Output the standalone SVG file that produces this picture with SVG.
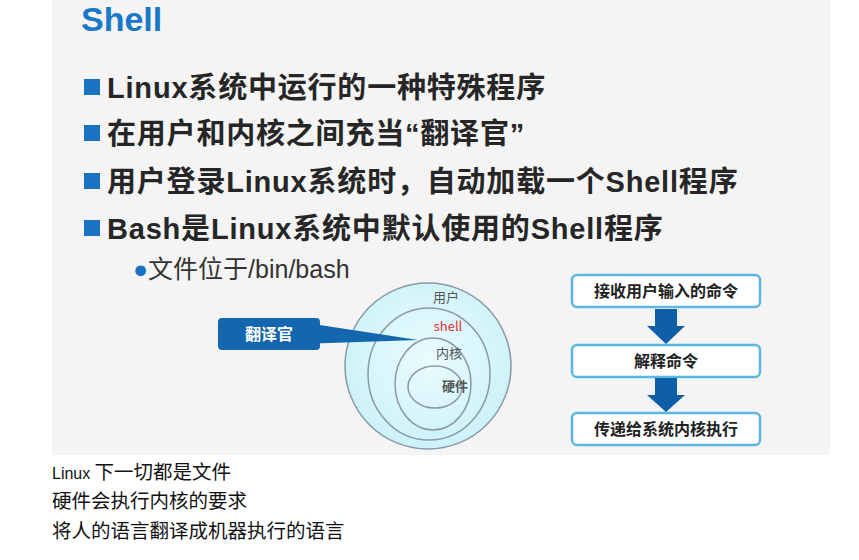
<svg xmlns="http://www.w3.org/2000/svg" width="859" height="560" viewBox="0 0 859 560">
<defs>
<style>
.b{font-family:"Liberation Sans","Noto Sans CJK SC",sans-serif;font-weight:bold;font-size:29px;fill:#262626;letter-spacing:0.8px}
.sq{fill:#1a72c2}
.box{fill:#fff;stroke:#5ab8e0;stroke-width:2.5}
.bt{font-family:"Noto Sans CJK SC",sans-serif;font-weight:bold;font-size:16px;fill:#222;text-anchor:middle}
.ring{fill:none;stroke:#8a98a8;stroke-width:1.5}
.lbl{font-family:"Noto Sans CJK SC",sans-serif;font-size:13px;fill:#555;text-anchor:middle}
.note{font-family:"Noto Sans CJK SC",sans-serif;font-size:19.5px;fill:#111}
.arr{fill:#0f5fa8}
</style>
<radialGradient id="cg" cx="0.5" cy="0.45" r="0.6"><stop offset="0" stop-color="#eafcff"/><stop offset="1" stop-color="#c9f1f7"/></radialGradient>
</defs>
<rect width="859" height="560" fill="#fff"/>
<rect x="52" y="0" width="778" height="455" fill="#f4f4f4"/>
<text x="81" y="31" font-family="Liberation Sans,sans-serif" font-weight="bold" font-size="34" fill="#1a78c8">Shell</text>
<g id="bullets">
<rect class="sq" x="84" y="79" width="16" height="16"/><text class="b" x="107" y="98">Linux系统中运行的一种特殊程序</text>
<rect class="sq" x="84" y="125" width="16" height="16"/><text class="b" x="107" y="144">在用户和内核之间充当“翻译官”</text>
<rect class="sq" x="84" y="173" width="16" height="16"/><text class="b" x="107" y="192">用户登录Linux系统时，自动加载一个Shell程序</text>
<rect class="sq" x="84" y="220" width="16" height="16"/><text class="b" x="107" y="239">Bash是Linux系统中默认使用的Shell程序</text>
<text x="133" y="278" font-family="Liberation Sans,Noto Sans CJK SC,sans-serif" font-size="25" fill="#333"><tspan fill="#1a72c2">●</tspan>文件位于/bin/bash</text>
</g>
<g id="rings">
<ellipse cx="428" cy="366" rx="83" ry="83" fill="url(#cg)" stroke="#8a98a8" stroke-width="1.5"/>
<ellipse class="ring" cx="429" cy="374" rx="61" ry="66"/>
<ellipse class="ring" cx="433" cy="384" rx="38" ry="46"/>
<ellipse class="ring" cx="435" cy="387" rx="27" ry="21"/>
<text class="lbl" x="446" y="302" font-size="11">用户</text>
<text class="lbl" x="448" y="331" style="fill:#e03030">shell</text>
<text class="lbl" x="449" y="358" font-size="15">内核</text>
<text class="lbl" x="455" y="391" font-weight="bold">硬件</text>
</g>
<g id="callout">
<path d="M300 322 L418 340 L300 344 Z" fill="#1466ae"/>
<rect x="218" y="318" width="102" height="32" rx="4" fill="#1466ae"/>
<text x="269" y="340" font-family="Noto Sans CJK SC,sans-serif" font-weight="bold" font-size="16" fill="#fff" text-anchor="middle">翻译官</text>
</g>
<g id="n1"><rect class="box" x="572" y="275" width="188" height="32" rx="5"/><text class="bt" x="666" y="297">接收用户输入的命令</text></g>
<g id="n2"><rect class="box" x="572" y="345" width="188" height="32" rx="5"/><text class="bt" x="666" y="367">解释命令</text></g>
<g id="n3"><rect class="box" x="572" y="413" width="188" height="32" rx="5"/><text class="bt" x="666" y="435">传递给系统内核执行</text></g>
<g id="connectors">
<path class="arr" d="M655 309 H677 V326 H685 L666 344 L647 326 H655 Z"/>
<path class="arr" d="M655 378 H677 V395 H685 L666 412 L647 395 H655 Z"/>
</g>
<g id="notes">
<text class="note" x="52" y="479"><tspan font-family="Liberation Sans,sans-serif" font-size="16">Linux</tspan> 下一切都是文件</text>
<text class="note" x="52" y="508">硬件会执行内核的要求</text>
<text class="note" x="52" y="538">将人的语言翻译成机器执行的语言</text>
</g>
</svg>
